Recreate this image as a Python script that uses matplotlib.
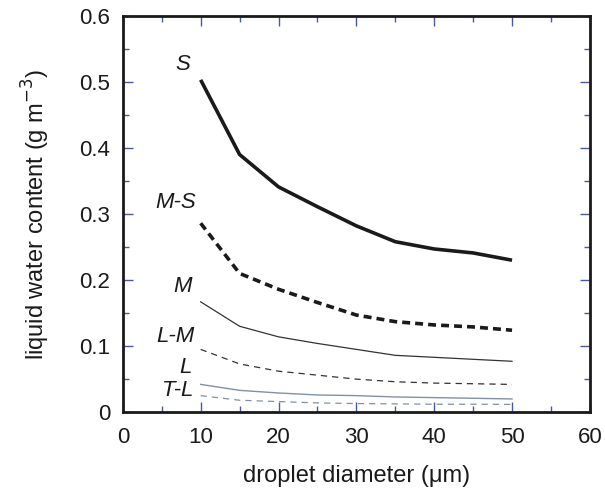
import matplotlib
matplotlib.use("Agg")
import matplotlib.pyplot as plt
from matplotlib.ticker import MultipleLocator

plt.rcParams['font.family'] = ['Liberation Sans', 'DejaVu Sans']

diameter = [10, 15, 20, 25, 30, 35, 40, 45, 50]
lwc_S = [0.503, 0.390, 0.341, 0.311, 0.282, 0.258, 0.247, 0.241, 0.230]
lwc_MS = [0.286, 0.210, 0.186, 0.166, 0.147, 0.137, 0.132, 0.129, 0.124]
lwc_M = [0.167, 0.130, 0.114, 0.104, 0.095, 0.086, 0.083, 0.080, 0.077]
lwc_LM = [0.095, 0.073, 0.062, 0.056, 0.050, 0.046, 0.044, 0.043, 0.042]
lwc_L = [0.042, 0.033, 0.029, 0.026, 0.025, 0.023, 0.022, 0.021, 0.020]
lwc_TL = [0.025, 0.018, 0.016, 0.014, 0.013, 0.0125, 0.012, 0.012, 0.0117]

labels = ['S', 'M-S', 'M', 'L-M', 'L', 'T-L']
label_x = [7.7, 6.8, 7.7, 6.8, 8.0, 7.1]
label_y = [0.526, 0.318, 0.190, 0.114, 0.068, 0.033]
yticks = [0, 0.1, 0.2, 0.3, 0.4, 0.5, 0.6]
ytick_labels = ['0', '0.1', '0.2', '0.3', '0.4', '0.5', '0.6']

fig = plt.figure(figsize=(6.05, 4.93), dpi=100)
ax = fig.add_axes([0.203, 0.164, 0.772, 0.804])

ax.plot(diameter, lwc_S, color='#1a1a1a', lw=2.6, solid_capstyle='butt')
ax.plot(diameter, lwc_MS, color='#1a1a1a', lw=2.6, linestyle=(0, (2.2, 1.4)))
ax.plot(diameter, lwc_M, color='#333333', lw=0.9)
ax.plot(diameter, lwc_LM, color='#333333', lw=0.9, linestyle=(0, (5, 4)))
ax.plot(diameter, lwc_L, color='#8090aa', lw=1.0)
ax.plot(diameter, lwc_TL, color='#8090aa', lw=0.9, linestyle=(0, (5, 4)))

for t, x, y in zip(labels, label_x, label_y):
    ax.text(x, y, t, fontsize=16, style='italic', ha='center', va='center', color='#1a1a1a')

ax.set_xlim(0, 60)
ax.set_ylim(0, 0.6)
ax.xaxis.set_major_locator(MultipleLocator(10))
ax.xaxis.set_minor_locator(MultipleLocator(5))
ax.set_yticks(yticks)
ax.set_yticklabels(ytick_labels)
ax.yaxis.set_minor_locator(MultipleLocator(0.05))

ax.tick_params(which='both', direction='in', top=True, right=True, color='#4a5a9a', labelsize=16, labelcolor='#1a1a1a')
ax.tick_params(which='major', length=7, width=1)
ax.tick_params(axis='y', which='major', pad=9)
ax.tick_params(axis='x', which='major', pad=11)
ax.tick_params(which='minor', length=4, width=1)
for s in ax.spines.values():
    s.set_linewidth(2)
    s.set_color('#1a1a1a')

ax.set_xlabel('droplet diameter (μm)', fontsize=17, labelpad=12, color='#1a1a1a')
ax.set_ylabel('liquid water content (g m$^{-3}$)', fontsize=17, labelpad=20, color='#1a1a1a')

fig.savefig('out.png', dpi=100)
